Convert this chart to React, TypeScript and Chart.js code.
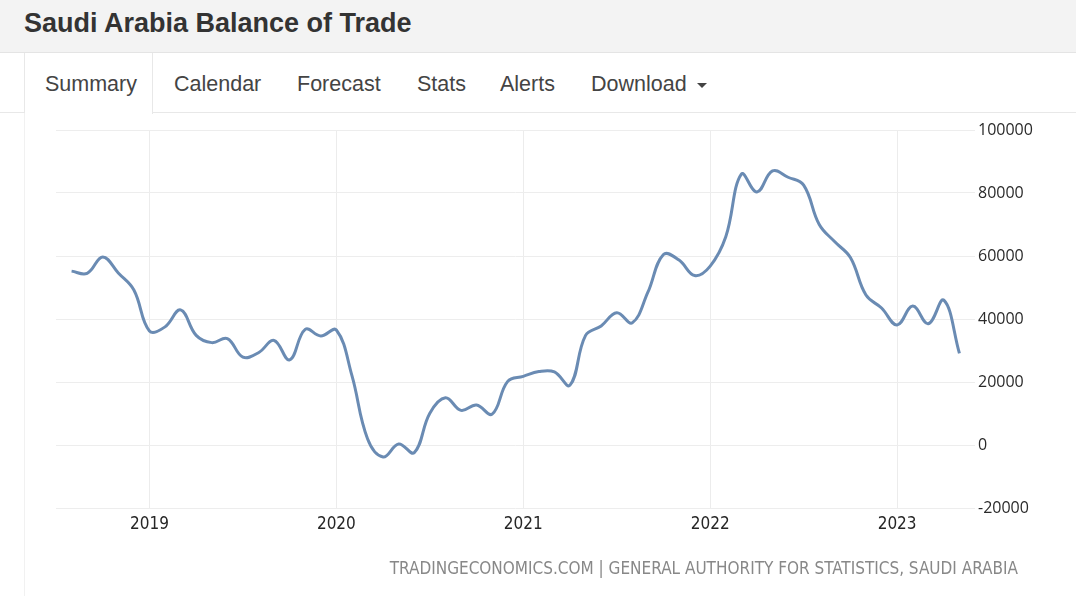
import React, { useEffect, useRef } from "react";
import { Chart, registerables } from "chart.js";

Chart.register(...registerables);

const months: string[] = [
  "2018-07", "2018-08", "2018-09", "2018-10", "2018-11", "2018-12",
  "2019-01", "2019-02", "2019-03", "2019-04", "2019-05", "2019-06",
  "2019-07", "2019-08", "2019-09", "2019-10", "2019-11", "2019-12",
  "2020-01", "2020-02", "2020-03", "2020-04", "2020-05", "2020-06",
  "2020-07", "2020-08", "2020-09", "2020-10", "2020-11", "2020-12",
  "2021-01", "2021-02", "2021-03", "2021-04", "2021-05", "2021-06",
  "2021-07", "2021-08", "2021-09", "2021-10", "2021-11", "2021-12",
  "2022-01", "2022-02", "2022-03", "2022-04", "2022-05", "2022-06",
  "2022-07", "2022-08", "2022-09", "2022-10", "2022-11", "2022-12",
  "2023-01", "2023-02", "2023-03", "2023-04", "2023-05", "2023-06",
];

// Balance of trade (SAR million); null = axis padding month without data
const balance: (number | null)[] = [
  null, 55200, 54500, 59700, 54600, 49200,
  36200, 37500, 42900, 34800, 32500, 33800,
  27900, 29300, 33200, 27000, 36700, 34600,
  36500, 22000, 2000, -3800, 300, -2400,
  10100, 15000, 11000, 12700, 9800, 20200,
  21800, 23300, 23200, 19000, 34800, 37800,
  42000, 38800, 48500, 60500, 58700, 53800,
  56800, 66100, 86000, 80300, 87000, 85000,
  82500, 70000, 64500, 59500, 47600, 43500,
  38100, 44100, 38500, 46000, 29100, null,
];

const yMin = -20000;
const yMax = 100000;
const yStep = 20000;

const tabs: string[] = ["Summary", "Calendar", "Forecast", "Stats", "Alerts", "Download"];
const tabX: number[] = [45, 174, 297, 417, 500, 591];

const title = "Saudi Arabia Balance of Trade";
const source = "TRADINGECONOMICS.COM | GENERAL AUTHORITY FOR STATISTICS, SAUDI ARABIA";

export default function App() {
  const canvasRef = useRef<HTMLCanvasElement | null>(null);

  useEffect(() => {
    if (!canvasRef.current) return;
    const chart = new Chart(canvasRef.current, {
      type: "line",
      data: {
        labels: months,
        datasets: [
          {
            data: balance,
            borderColor: "#6a8bb3",
            borderWidth: 3,
            pointRadius: 0,
            tension: 0.4,
            fill: false,
            spanGaps: false,
          },
        ],
      },
      options: {
        animation: false,
        responsive: false,
        maintainAspectRatio: false,
        layout: { padding: { left: 56, top: 17, right: 0, bottom: 48 } },
        plugins: { legend: { display: false }, tooltip: { enabled: false } },
        scales: {
          x: {
            type: "category",
            offset: false,
            border: { display: false },
            grid: {
              drawTicks: false,
              color: (ctx: any) =>
                months[ctx.index] && months[ctx.index].endsWith("-01") ? "#ececec" : "rgba(0,0,0,0)",
              lineWidth: 1,
            },
            ticks: {
              autoSkip: false,
              maxRotation: 0,
              padding: 6,
              color: "#262626",
              font: { family: "'DejaVu Sans Condensed', 'DejaVu Sans', sans-serif", size: 17 },
              callback: (_v: any, i: number) =>
                months[i] && months[i].endsWith("-01") ? months[i].slice(0, 4) : "",
            },
            afterFit: (scale: any) => {
              scale.height = 40;
            },
          },
          y: {
            position: "right",
            min: yMin,
            max: yMax,
            border: { display: false },
            grid: { drawTicks: false, color: "#ededed", lineWidth: 1 },
            ticks: {
              stepSize: yStep,
              padding: 3,
              color: "#2a2a2a",
              font: { family: "'Open Sans', sans-serif", size: 16 },
              callback: (v: any) => String(v),
            },
            afterFit: (scale: any) => {
              scale.width = 101;
            },
          },
        },
      },
    });
    return () => chart.destroy();
  }, []);

  return (
    <div
      style={{
        position: "absolute",
        left: 0,
        top: 0,
        width: 1076,
        height: 596,
        overflow: "hidden",
        background: "#ffffff",
        fontFamily: "'Liberation Sans', Arial, sans-serif",
      }}
    >
      {/* header */}
      <div
        style={{
          position: "absolute",
          left: 0,
          top: 0,
          width: 1076,
          height: 52,
          background: "#f3f3f3",
          borderBottom: "1px solid #e4e4e4",
        }}
      />
      <div
        style={{
          position: "absolute",
          left: 24,
          top: 5,
          fontSize: 27,
          fontWeight: "bold",
          color: "#333",
          lineHeight: "36px",
          whiteSpace: "nowrap",
        }}
      >
        {title}
      </div>
      {/* tab row bottom border */}
      <div style={{ position: "absolute", left: 0, top: 112, width: 1076, height: 1, background: "#e8e8e8" }} />
      {/* active tab */}
      <div
        style={{
          position: "absolute",
          left: 24,
          top: 53,
          width: 127,
          height: 61,
          background: "#fff",
          borderLeft: "1px solid #e8e8e8",
          borderRight: "1px solid #e8e8e8",
        }}
      />
      {/* container left border */}
      <div style={{ position: "absolute", left: 24, top: 113, width: 1, height: 483, background: "#f1f1f1" }} />
      {tabs.map((t, i) => (
        <div
          key={t}
          style={{
            position: "absolute",
            left: tabX[i],
            top: 71,
            fontSize: 21.5,
            lineHeight: "26px",
            color: "#444",
            whiteSpace: "nowrap",
          }}
        >
          {t}
        </div>
      ))}
      {/* caret */}
      <div
        style={{
          position: "absolute",
          left: 697,
          top: 83,
          width: 0,
          height: 0,
          borderLeft: "5px solid transparent",
          borderRight: "5px solid transparent",
          borderTop: "5px solid #444",
        }}
      />
      <canvas
        ref={canvasRef}
        width={1076}
        height={483}
        style={{ position: "absolute", left: 0, top: 113, width: 1076, height: 483 }}
      />
      <div
        style={{
          position: "absolute",
          right: 58,
          top: 557,
          fontFamily: "'DejaVu Sans Condensed', 'DejaVu Sans', sans-serif",
          fontSize: 17,
          lineHeight: "22px",
          color: "#888",
          whiteSpace: "nowrap",
        }}
      >
        {source}
      </div>
    </div>
  );
}
